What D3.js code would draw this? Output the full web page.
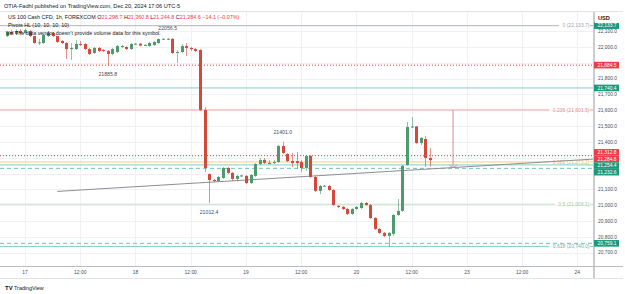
<!DOCTYPE html>
<html>
<head>
<meta charset="utf-8">
<script src="https://cdn.jsdelivr.net/npm/d3@7"></script>
<style>
body { margin:0; background:#fff; }
svg text { font-family: "Liberation Sans", Arial, sans-serif; }
</style>
</head>
<body>
<div id="chart"></div>
<script>
// 1h candles, Dec 16 20:00 -> Dec 20 16:00
var opens  = [22068,22094,22081,22100,22087,22100,22068,22024,22024,22068,22087,22068,22037,22024,21986,21986,22018,22018,21986,21961,
              21993,21980,21974,21955,21967,22001,21999,21986,22018,22020,22010,22005,22012,22024,22049,22049,22051,21961,21967,22005,
              21993,21986,21980,21601,21197,21159,21153,21172,21235,21204,21166,21185,21185,21140,21185,21260,21285,21267,21266,21273,
              21374,21323,21279,21279,21273,21235,21311,21178,21090,21121,21121,21096,20995,20989,20976,20945,20976,20982,21014,21001,
              20919,20850,20825,20806,20819,20938,20964,21254,21494,21497,21393,21418,21298.7];
var highs  = [22100,22106,22110,22112,22115,22106,22070,22049,22081,22094,22094,22070,22043,22030,22024,22043,22037,22024,21993,21999,
              21999,21986,21980,21993,22012,22012,22005,22024,22024,22024,22018,22031,22037,22053,22054,22056.5,22054,21980,22018,22024,
              21999,21993,21986,21620,21200,21166,21185,21241,21241,21210,21191,21191,21191,21197,21266,21298,21298,21285,21285,21380,
              21401.0,21330,21330,21336,21285,21317,21317,21185,21128,21128,21128,21102,21001,20995,20982,20982,20995,21020,21020,21008,
              20925,20856,20831,20831,20945,21039,21254,21526,21557,21500,21431,21437,21360.8];
var lows   = [22062,22075,22075,22080,22082,22062,22020,22012,22018,22062,22062,22024,22018,21923,21917,21980,22005,21980,21948,21955,
              21967,21967,21885.8,21948,21961,21993,21980,21980,22012,22003,22005,22001,22005,22018,22043,22043,21955,21898,21961,21942,
              21974,21967,21595,21210,21012.4,21147,21147,21166,21197,21153,21150,21178,21134,21134,21178,21254,21260,21260,21260,21266,
              21323,21272,21241,21229,21210,21216,21172,21083,21070,21115,21090,20995,20982,20970,20938,20938,20970,20976,20995,20913,
              20843,20818,20799,20736,20806,20932,20957,21248,21488,21387,21380,21241,21244.8];
var closes = [22094,22081,22100,22087,22106,22068,22024,22028,22075,22087,22068,22031,22024,21986,21993,22018,22012,21986,21955,21993,
              21974,21976,21955,21986,22005,22005,21986,22018,22020,22008,22012,22024,22031,22049,22051,22051,21961,21967,22005,21993,
              21986,21974,21601,21235,21159,21153,21178,21235,21204,21166,21185,21188,21140,21191,21260,21285,21267,21266,21273,21374,
              21330,21279,21266,21266,21235,21311,21178,21090,21121,21123,21096,21001,20989,20976,20945,20976,20989,21014,21001,20919,
              20850,20825,20806,20825,20938,20964,21248,21494,21497,21393,21425,21298.7,21284.6];

var tickIdx = [4, 16, 28, 40, 52, 64, 76, 88, 100, 112, 124];
var tickLabels = ["17", "12:00", "18", "12:00", "19", "12:00", "20", "12:00", "23", "12:00", "24"];
var priceTicks = [20700, 20800, 20900, 21000, 21100, 21200, 21300, 21400, 21500, 21600, 21700, 21800, 21900, 22000, 22100];

var fibRatios = [0, 0.236, 0.382, 0.5, 0.618];
var fibPrices = [22133.7, 21601.5, 21273.2, 21006.1, 20740.0];

var levelPrices = [21884.5, 21740.4, 21312.8, 21254.4, 21232.6, 20759.1];
var tagValues = [22133.7, 21884.5, 21740.4, 21312.8, 21284.6, 21254.4, 21232.6, 20759.1];
var tagUp = [true, false, true, false, false, true, true, true];

var pivotIdx = [35, 22, 60, 44];
var pivotHigh = [true, false, true, false];

var trendIdx = [11, 127.4];
var trendPrice = [21087, 21291];
var arrowIdx = 97;
var arrowPrice = [21601.5, 21236];

var width = 625, height = 294;
var plotLeft = 0, plotRight = 593, plotTop = 12, plotBottom = 266;
var up = "#4e9a6c", down = "#d5493b";

var x = d3.scaleLinear().domain([-1, 127.4]).range([2, plotRight]);
var y = d3.scaleLinear().domain([20616, 22220]).range([plotBottom, plotTop]);

var svg = d3.select('#chart').append('svg')
    .attr('width', width).attr('height', height);

svg.append('clipPath').attr('id', 'plot')
    .append('rect').attr('x', plotLeft).attr('y', plotTop)
    .attr('width', plotRight - plotLeft).attr('height', plotBottom - plotTop);

var plot = svg.append('g').attr('clip-path', 'url(#plot)');

// grid
plot.selectAll('.hgrid').data(priceTicks).enter().append('line')
    .attr('x1', plotLeft).attr('x2', plotRight)
    .attr('y1', function(d) { return Math.round(y(d)) + 0.5; })
    .attr('y2', function(d) { return Math.round(y(d)) + 0.5; })
    .style('stroke', '#f0f1f4');
plot.selectAll('.vgrid').data(tickIdx).enter().append('line')
    .attr('y1', plotTop).attr('y2', plotBottom)
    .attr('x1', function(d) { return Math.round(x(d)) + 0.5; })
    .attr('x2', function(d) { return Math.round(x(d)) + 0.5; })
    .style('stroke', '#f0f1f4');

// horizontal levels
var levelStyle = [
  {c: '#f23645', dash: '1,2'},
  {c: '#86cfc2', dash: null},
  {c: '#f23645', dash: '1,2'},
  {c: '#86cfc2', dash: null},
  {c: '#6fc3b5', dash: '4,3'},
  {c: '#6fc3b5', dash: '4,3'}
];
plot.selectAll('.level').data(levelPrices).enter().append('line')
    .attr('x1', plotLeft).attr('x2', plotRight)
    .attr('y1', function(d) { return y(d); })
    .attr('y2', function(d) { return y(d); })
    .style('stroke', function(d, i) { return levelStyle[i].c; })
    .style('stroke-width', 1)
    .style('stroke-dasharray', function(d, i) { return levelStyle[i].dash; });

// fib retracement
var fibLine = ['#b2b5be', '#f5a3a6', '#ffcc80', '#bfe0bf', '#80cbc4'];
var fibText = ['#a0a3ab', '#f08a90', '#f5ae55', '#95ca95', '#5fb8ad'];
var fibLabelW = [30, 40, 40, 34, 40];
plot.selectAll('.fib').data(fibPrices).enter().append('line')
    .attr('x1', plotLeft)
    .attr('x2', function(d, i) { return plotRight - 4 - fibLabelW[i]; })
    .attr('y1', function(d) { return y(d); })
    .attr('y2', function(d) { return y(d); })
    .style('stroke', function(d, i) { return fibLine[i]; });
plot.selectAll('.fibtail').data(fibPrices).enter().append('line')
    .attr('x1', plotRight - 3).attr('x2', plotRight)
    .attr('y1', function(d) { return y(d); })
    .attr('y2', function(d) { return y(d); })
    .style('stroke', function(d, i) { return fibLine[i]; });
plot.selectAll('.fibtext').data(fibPrices).enter().append('text')
    .attr('x', plotRight - 3.5)
    .attr('y', function(d) { return y(d) + 1.8; })
    .attr('text-anchor', 'end')
    .style('font-size', '5px')
    .style('fill', function(d, i) { return fibText[i]; })
    .text(function(d, i) { return fibRatios[i] + ' (' + d3.format(',.1f')(d) + ')'; });

// trend line
plot.append('line')
    .attr('x1', x(trendIdx[0])).attr('y1', y(trendPrice[0]))
    .attr('x2', x(trendIdx[1])).attr('y2', y(trendPrice[1]))
    .style('stroke', '#8a8d94').style('stroke-width', 1);

// arrow
var ax = x(arrowIdx), ay0 = y(arrowPrice[0]), ay1 = y(arrowPrice[1]);
plot.append('path')
    .attr('d', 'M' + ax + ',' + ay0 + 'V' + ay1 + 'M' + (ax - 4) + ',' + (ay1 - 3) + 'L' + ax + ',' + ay1 + 'L' + (ax + 4) + ',' + (ay1 - 3))
    .style('fill', 'none').style('stroke', '#d98c90').style('stroke-width', 1);

// candles
var idx = d3.range(opens.length);
plot.selectAll('.wick').data(idx).enter().append('line')
    .attr('x1', function(i) { return Math.round(x(i)) + 0.5; })
    .attr('x2', function(i) { return Math.round(x(i)) + 0.5; })
    .attr('y1', function(i) { return y(highs[i]); })
    .attr('y2', function(i) { return y(lows[i]); })
    .style('stroke', function(i) { return closes[i] >= opens[i] ? up : down; })
    .style('stroke-opacity', 0.6);
plot.selectAll('.body').data(idx).enter().append('rect')
    .attr('x', function(i) { return Math.round(x(i)) - 1; })
    .attr('width', 3)
    .attr('y', function(i) { return y(Math.max(opens[i], closes[i])); })
    .attr('height', function(i) { return Math.max(1, Math.abs(y(opens[i]) - y(closes[i]))); })
    .style('fill', function(i) { return closes[i] >= opens[i] ? up : down; });

// pivot labels
plot.selectAll('.pivot').data(pivotIdx).enter().append('text')
    .attr('x', function(d) { return x(d); })
    .attr('y', function(d, i) { return pivotHigh[i] ? y(highs[d]) - 8 : y(lows[d]) + 11; })
    .attr('text-anchor', 'middle')
    .style('font-size', '5.2px').style('fill', '#4a4d55')
    .text(function(d, i) { return (pivotHigh[i] ? highs[d] : lows[d]).toFixed(1); });

// frame
svg.append('line').attr('x1', 0).attr('x2', width - 2).attr('y1', plotTop - 0.5).attr('y2', plotTop - 0.5)
    .style('stroke', '#e0e3eb');
svg.append('line').attr('x1', 0).attr('x2', width - 2).attr('y1', plotBottom + 0.5).attr('y2', plotBottom + 0.5)
    .style('stroke', '#b8bbc3');
svg.append('line').attr('x1', 0).attr('x2', width - 2).attr('y1', 278.5).attr('y2', 278.5)
    .style('stroke', '#e0e3eb');
svg.append('line').attr('x1', plotRight + 1).attr('x2', plotRight + 1).attr('y1', plotTop).attr('y2', 278)
    .style('stroke', '#b8bbc3').style('stroke-width', 1.5);

// price tags
var tagH = 6.6;
var tags = tagValues.map(function(v, i) { return {v: v, up: tagUp[i], pos: y(v)}; })
    .sort(function(a, b) { return a.pos - b.pos; });
for (var k = 0; k < 60; k++) {
  for (var j = 1; j < tags.length; j++) {
    var gap = tags[j].pos - tags[j - 1].pos;
    if (gap < tagH) {
      var s = (tagH - gap) / 2;
      tags[j].pos += s;
      tags[j - 1].pos -= s;
    }
  }
}
var tg = svg.selectAll('.tag').data(tags).enter().append('g');
tg.append('rect')
    .attr('x', plotRight + 1).attr('width', 25)
    .attr('y', function(d) { return d.pos - tagH / 2; })
    .attr('height', tagH)
    .style('fill', function(d) { return d.up ? '#1a9a7c' : '#ef3b48'; });
tg.append('text')
    .attr('x', plotRight + 4.5).attr('y', function(d) { return d.pos + 1.8; })
    .style('font-size', '4.9px').style('fill', '#fff')
    .text(function(d) { return d3.format(',.1f')(d.v); });

// currency box
svg.append('rect').attr('x', plotRight + 2).attr('y', plotTop).attr('width', 28).attr('height', 11)
    .style('fill', '#fff');
svg.append('text').attr('x', 598).attr('y', 20).style('font-size', '5.6px').style('fill', '#131722')
    .style('font-weight', 'bold').text('USD');

// price axis, labels hidden behind tags are skipped
var shown = priceTicks.filter(function(p) {
  return tags.every(function(t) { return Math.abs(t.pos - y(p)) > 5; });
});
svg.selectAll('.plabel').data(shown).enter().append('text')
    .attr('x', 598).attr('y', function(d) { return y(d) + 1.7; })
    .style('font-size', '4.9px').style('fill', '#4a4d55')
    .text(function(d) { return d3.format(',.1f')(d); });

// time axis
svg.selectAll('.tlabel').data(tickIdx).enter().append('text')
    .attr('x', function(d) { return x(d); })
    .attr('y', 274)
    .attr('text-anchor', 'middle')
    .style('font-size', '4.9px').style('fill', '#4a4d55')
    .text(function(d, i) { return tickLabels[i]; });

// header + legend
svg.append('text').attr('x', 4).attr('y', 8).style('font-size', '5.6px').style('fill', '#131722')
    .text('OTIA-Fadhl published on TradingView.com, Dec 20, 2024 17:06 UTC-5');

var n = opens.length - 1;
var fmt = d3.format(',.1f');
var chg = closes[n] - closes[n - 1];
var leg = svg.append('text').attr('x', 8).attr('y', 19).style('font-size', '5.4px').style('fill', '#131722');
leg.append('tspan').text('US 100 Cash CFD, 1h, FOREXCOM ');
[['O', opens[n]], ['H', highs[n]], ['L', lows[n]], ['C', closes[n]]].forEach(function(p) {
  leg.append('tspan').text(p[0]);
  leg.append('tspan').style('fill', '#f23645').text(fmt(p[1]) + ' ');
});
leg.append('tspan').style('fill', '#f23645')
    .text('\u2212' + Math.abs(chg).toFixed(1) + ' (\u2212' + Math.abs(chg / closes[n - 1] * 100).toFixed(2) + '%)');

svg.append('text').attr('x', 8).attr('y', 27).style('font-size', '5.4px').style('fill', '#131722')
    .text('Pivots HL (10, 10, 10, 10)');
svg.append('text').attr('x', 6).attr('y', 35).style('font-size', '5.4px').style('fill', '#131722')
    .text('Vol  The data vendor doesn\u2019t provide volume data for this symbol.');

// footer logo
svg.append('text').attr('x', 5).attr('y', 290).style('font-size', '6px').style('font-weight', 'bold')
    .style('fill', '#131722').text('TV');
svg.append('text').attr('x', 14).attr('y', 290).style('font-size', '5.4px')
    .style('fill', '#131722').text('TradingView');
</script>
</body>
</html>
